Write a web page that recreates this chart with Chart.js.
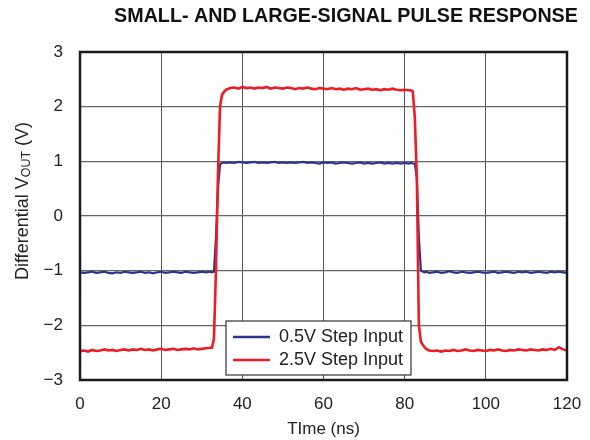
<!DOCTYPE html>
<html>
<head>
<meta charset="utf-8">
<script src="https://cdn.jsdelivr.net/npm/chart.js@4.4.0/dist/chart.umd.min.js"></script>
<style>
  html, body { margin: 0; padding: 0; background: #fff; }
  #wrap { width: 590px; height: 440px; }
</style>
</head>
<body>
<div id="wrap"><canvas id="pulseChart"></canvas></div>
<script>
// Time axis (ns), finer steps around the edges
const timeNs = [
  0, 1, 2, 3, 4, 5, 6, 7, 8, 9, 10, 11, 12, 13, 14, 15, 16, 17, 18, 19, 20,
  21, 22, 23, 24, 25, 26, 27, 28, 29, 30, 31, 32,
  32.5, 33, 33.5, 34, 34.5, 35, 35.5, 36,
  37, 38, 39, 40, 41, 42, 43, 44, 45, 46, 47, 48, 49, 50, 51, 52, 53, 54, 55,
  56, 57, 58, 59, 60, 61, 62, 63, 64, 65, 66, 67, 68, 69, 70, 71, 72, 73, 74,
  75, 76, 77, 78, 79, 80, 81,
  81.5, 82, 82.5, 83, 83.5, 84, 84.5, 85, 85.5, 86,
  87, 88, 89, 90, 91, 92, 93, 94, 95, 96, 97, 98, 99, 100, 101, 102, 103, 104,
  105, 106, 107, 108, 109, 110, 111, 112, 113, 114, 115, 116, 117, 118, 119, 120
];

// 0.5V step input (V)
const smallStep = [
  -1.03, -1.04, -1.03, -1.02, -1.04, -1.03, -1.02, -1.04, -1.05, -1.03, -1.04,
  -1.02, -1.03, -1.04, -1.03, -1.02, -1.04, -1.03, -1.05, -1.03, -1.02, -1.04,
  -1.03, -1.02, -1.03, -1.04, -1.02, -1.03, -1.04, -1.03, -1.02, -1.03, -1.02,
  -1.03, -1.02, -0.40, 0.50, 0.95, 0.97, 0.98, 0.97,
  0.98, 0.97, 0.99, 0.98, 0.97, 0.98, 0.99, 0.97, 0.98, 0.97, 0.98, 0.99, 0.97,
  0.98, 0.97, 0.98, 0.97, 0.98, 0.99, 0.97, 0.98, 0.97, 0.96, 0.98, 0.97, 0.98,
  0.96, 0.97, 0.98, 0.97, 0.96, 0.97, 0.98, 0.96, 0.97, 0.96, 0.97, 0.98, 0.96,
  0.97, 0.96, 0.97, 0.96, 0.97, 0.96,
  0.97, 0.96, 0.96, 0.70, -0.40, -1.00, -1.02, -1.03, -1.02, -1.04,
  -1.03, -1.02, -1.04, -1.03, -1.01, -1.03, -1.04, -1.02, -1.03, -1.04, -1.03,
  -1.02, -1.03, -1.04, -1.03, -1.02, -1.04, -1.03, -1.02, -1.03, -1.04, -1.02,
  -1.03, -1.02, -1.04, -1.03, -1.02, -1.03, -1.04, -1.02, -1.03, -1.02, -1.03, -1.04
];

// 2.5V step input (V)
const largeStep = [
  -2.47, -2.46, -2.48, -2.45, -2.47, -2.46, -2.44, -2.46, -2.45, -2.47, -2.45,
  -2.44, -2.46, -2.44, -2.45, -2.43, -2.45, -2.44, -2.46, -2.44, -2.43, -2.45,
  -2.44, -2.43, -2.45, -2.44, -2.43, -2.44, -2.42, -2.44, -2.43, -2.42, -2.41,
  -2.41, -2.25, -1.00, 0.80, 2.00, 2.22, 2.27, 2.31,
  2.34, 2.35, 2.33, 2.36, 2.34, 2.35, 2.33, 2.35, 2.34, 2.36, 2.33, 2.35, 2.34,
  2.33, 2.35, 2.34, 2.32, 2.34, 2.33, 2.35, 2.33, 2.32, 2.34, 2.33, 2.32, 2.34,
  2.32, 2.33, 2.31, 2.33, 2.32, 2.34, 2.31, 2.32, 2.33, 2.31, 2.32, 2.30, 2.32,
  2.31, 2.33, 2.31, 2.30, 2.31, 2.30,
  2.30, 2.28, 1.80, 0.70, -2.00, -2.30, -2.36, -2.41, -2.44, -2.46,
  -2.47, -2.46, -2.48, -2.46, -2.47, -2.45, -2.47, -2.46, -2.44, -2.46, -2.47,
  -2.45, -2.46, -2.47, -2.45, -2.46, -2.44, -2.46, -2.47, -2.45, -2.46, -2.44,
  -2.45, -2.46, -2.44, -2.45, -2.46, -2.44, -2.45, -2.43, -2.45, -2.40, -2.44, -2.46
];

const xTicks = [0, 20, 40, 60, 80, 100, 120];
const yTicks = [-3, -2, -1, 0, 1, 2, 3];

const FONT = "'Liberation Sans', Arial, Helvetica, sans-serif";

function toPoints(xs, ys) {
  return xs.map((x, i) => ({ x: x, y: ys[i] }));
}

// Title, y-axis label with subscript, frame and in-plot legend
const decorPlugin = {
  id: "decor",
  afterDatasetsDraw(chart) {
    const ctx = chart.ctx;
    const area = chart.chartArea;

    // frame
    ctx.save();
    ctx.strokeStyle = "#1a1a1a";
    ctx.lineWidth = 2.5;
    ctx.strokeRect(area.left, area.top, area.right - area.left, area.bottom - area.top);
    ctx.restore();

    // legend
    const lg = { x: 226, y: 321, w: 185, h: 54 };
    ctx.save();
    ctx.fillStyle = "#fff";
    ctx.fillRect(lg.x, lg.y, lg.w, lg.h);
    ctx.strokeStyle = "#333";
    ctx.lineWidth = 1.2;
    ctx.strokeRect(lg.x, lg.y, lg.w, lg.h);
    ctx.font = "18px " + FONT;
    ctx.textBaseline = "middle";
    chart.data.datasets.forEach((ds, i) => {
      const yy = lg.y + 16 + i * 23;
      ctx.strokeStyle = ds.borderColor;
      ctx.lineWidth = 2.5;
      ctx.beginPath();
      ctx.moveTo(lg.x + 7, yy);
      ctx.lineTo(lg.x + 44, yy);
      ctx.stroke();
      ctx.fillStyle = "#222";
      ctx.fillText(ds.label, lg.x + 53, yy);
    });
    ctx.restore();
  },
  afterDraw(chart) {
    const ctx = chart.ctx;

    // title
    ctx.save();
    ctx.font = "bold 19.7px " + FONT;
    ctx.fillStyle = "#111";
    ctx.textAlign = "center";
    ctx.textBaseline = "middle";
    ctx.fillText("SMALL- AND LARGE-SIGNAL PULSE RESPONSE", 346, 17);
    ctx.restore();

    // y-axis title: Differential V_OUT (V)
    const parts = [
      { t: "Differential V", f: "18px " + FONT, dy: 0 },
      { t: "OUT", f: "12.5px " + FONT, dy: 4 },
      { t: " (V)", f: "18px " + FONT, dy: 0 }
    ];
    ctx.save();
    let total = 0;
    parts.forEach(p => { ctx.font = p.f; p.w = ctx.measureText(p.t).width; total += p.w; });
    ctx.translate(23, 201);
    ctx.rotate(-Math.PI / 2);
    ctx.fillStyle = "#222";
    ctx.textBaseline = "middle";
    let cx = -total / 2;
    parts.forEach(p => {
      ctx.font = p.f;
      ctx.fillText(p.t, cx, p.dy);
      cx += p.w;
    });
    ctx.restore();
  }
};

new Chart(document.getElementById("pulseChart"), {
  type: "line",
  data: {
    datasets: [
      {
        label: "0.5V Step Input",
        data: toPoints(timeNs, smallStep),
        borderColor: "#2b3590",
        borderWidth: 2.2,
        pointRadius: 0,
        tension: 0,
        order: 2
      },
      {
        label: "2.5V Step Input",
        data: toPoints(timeNs, largeStep),
        borderColor: "#ee1c25",
        borderWidth: 2.6,
        pointRadius: 0,
        tension: 0,
        order: 1
      }
    ]
  },
  options: {
    responsive: true,
    maintainAspectRatio: false,
    animation: false,
    layout: { padding: { top: 52, right: 23, bottom: 0, left: 0 } },
    plugins: {
      legend: { display: false },
      tooltip: { enabled: false }
    },
    scales: {
      x: {
        type: "linear",
        min: 0,
        max: 120,
        afterBuildTicks: axis => { axis.ticks = xTicks.map(v => ({ value: v })); },
        afterFit: axis => {
          axis.height = 60;
          axis.paddingLeft = 0;
          axis.paddingRight = 0;
        },
        grid: { color: "#555", lineWidth: 1, drawTicks: false },
        border: { display: false },
        ticks: {
          padding: 14,
          color: "#222",
          font: { family: FONT, size: 17 },
          maxRotation: 0
        },
        title: {
          display: true,
          text: "TIme (ns)",
          color: "#222",
          font: { family: FONT, size: 17 },
          padding: { top: 0, bottom: 0 }
        }
      },
      y: {
        type: "linear",
        min: -3,
        max: 3,
        afterBuildTicks: axis => { axis.ticks = yTicks.map(v => ({ value: v })); },
        afterFit: axis => { axis.width = 80; },
        grid: { color: "#666", lineWidth: 1.2, drawTicks: false },
        border: { display: false },
        ticks: {
          padding: 17,
          color: "#222",
          font: { family: FONT, size: 17 },
          callback: v => String(v).replace("-", "\u2212")
        }
      }
    }
  },
  plugins: [decorPlugin]
});
</script>
</body>
</html>
